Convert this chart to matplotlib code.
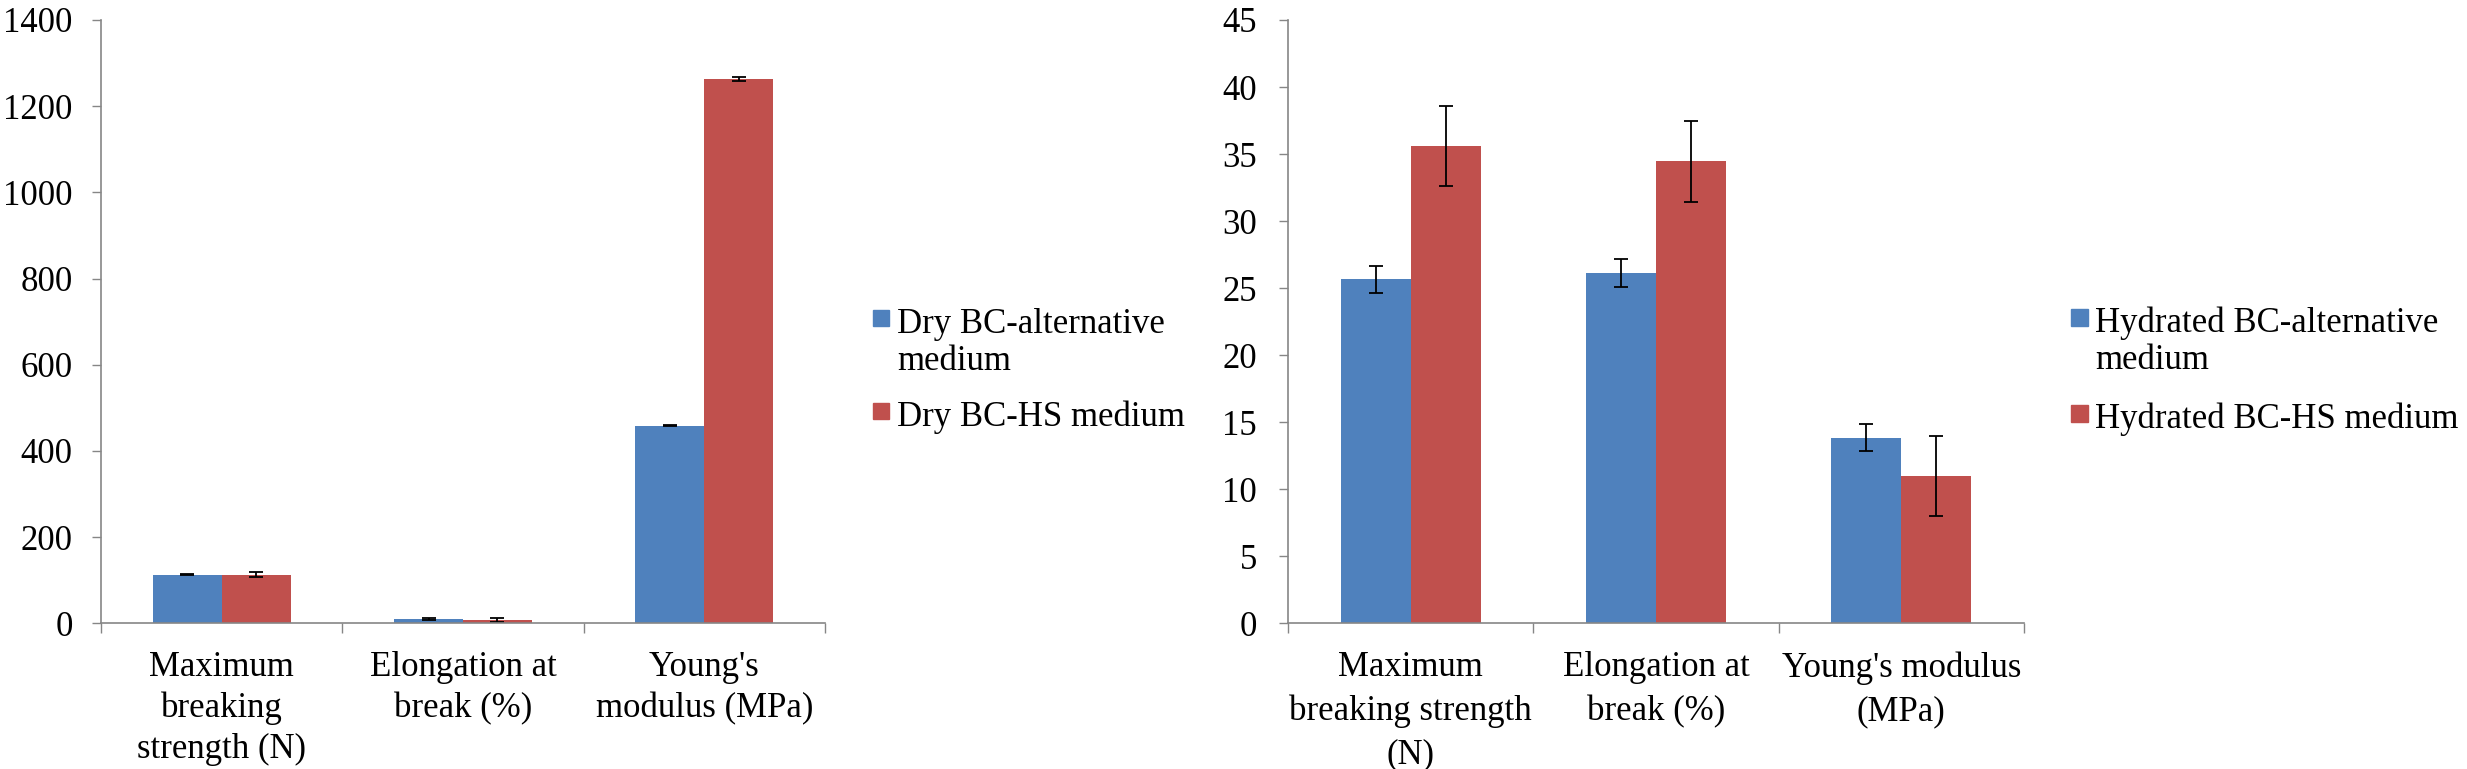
import matplotlib
matplotlib.use("Agg")
import matplotlib.pyplot as plt
import numpy as np
from matplotlib.patches import Rectangle

BLUE = "#4F81BD"
RED = "#C0504D"
AXIS_GREY = "#868686"

# left panel: dry samples
dry_labels = ["Maximum\nbreaking\nstrength (N)", "Elongation at\nbreak (%)", "Young's\nmodulus (MPa)"]
dry_alt = [113, 10, 459]
dry_alt_err = [1.5, 1.5, 1.5]
dry_hs = [113, 7, 1263]
dry_hs_err = [6, 5, 5]
dry_series = ["Dry BC-alternative\nmedium", "Dry BC-HS medium"]

# right panel: hydrated samples
hyd_labels = ["Maximum\nbreaking strength\n(N)", "Elongation at\nbreak (%)", "Young's modulus\n(MPa)"]
hyd_alt = [25.65, 26.15, 13.85]
hyd_alt_err = [1.0, 1.05, 1.0]
hyd_hs = [35.6, 34.45, 11.0]
hyd_hs_err = [3.0, 3.0, 3.0]
hyd_series = ["Hydrated BC-alternative\nmedium", "Hydrated BC-HS medium"]

FS = 25
plt.rcParams.update({
    "font.family": "serif",
    "font.serif": ["Liberation Serif", "DejaVu Serif"],
    "font.size": FS,
})

W, H = 2467, 769
fig = plt.figure(figsize=(W / 100, H / 100), dpi=100)


def px_axes(x0, x1, y_top, y_bot):
    return fig.add_axes([x0 / W, 1 - y_bot / H, (x1 - x0) / W, (y_bot - y_top) / H])


def draw_panel(ax, labels, alt, alt_err, hs, hs_err, ymax, ystep, linespacing, ypad):
    n = len(labels)
    x = np.arange(n)
    bw = 1 / 3.5
    ekw = dict(ecolor="black", elinewidth=1.3, capthick=1.3)
    ax.bar(x - bw / 2, alt, bw, color=BLUE, yerr=alt_err, capsize=4.7,
           error_kw=ekw, zorder=2)
    ax.bar(x + bw / 2, hs, bw, color=RED, yerr=hs_err, capsize=4.7,
           error_kw=ekw, zorder=2)
    ax.set_xlim(-0.5, n - 0.5)
    ax.set_ylim(0, ymax)
    ax.set_yticks(np.arange(0, ymax + ystep / 2, ystep))
    ax.set_xticks(x)
    ax.set_xticklabels(labels, linespacing=linespacing, fontsize=FS)
    ax.set_xticks(np.arange(-0.5, n, 1.0), minor=True)
    ax.tick_params(axis="x", which="major", length=0, pad=20)
    ax.tick_params(axis="x", which="minor", length=7.5, width=1, color=AXIS_GREY)
    ax.tick_params(axis="y", length=6.5, width=1, color=AXIS_GREY, pad=ypad,
                   labelsize=FS)
    for side in ("top", "right"):
        ax.spines[side].set_visible(False)
    for side in ("left", "bottom"):
        ax.spines[side].set_color(AXIS_GREY)
        ax.spines[side].set_linewidth(1.2)


ax1 = px_axes(101, 825, 20, 623.3)
draw_panel(ax1, dry_labels, dry_alt, dry_alt_err, dry_hs, dry_hs_err, 1400, 200, 1.3, 14)

ax2 = px_axes(1288, 2024, 20, 623.3)
draw_panel(ax2, hyd_labels, hyd_alt, hyd_alt_err, hyd_hs, hyd_hs_err, 45, 5, 1.42, 16)

# legends drawn as squares + text so the square lines up with the first line
for (x_sq, x_txt, names, tops, size) in (
    (873, 897, dry_series, (310, 403), 16),
    (2071, 2095, hyd_series, (309, 405), 17),
):
    for name, color, top in zip(names, (BLUE, RED), tops):
        fig.patches.append(Rectangle((x_sq / W, 1 - (top + size) / H), size / W, size / H,
                                     transform=fig.transFigure, color=color))
        fig.text(x_txt / W, 1 - (top - 2) / H, name, ha="left", va="top",
                 fontsize=FS, linespacing=1.15, transform=fig.transFigure)

fig.savefig("out.png", dpi=100, facecolor="white")
